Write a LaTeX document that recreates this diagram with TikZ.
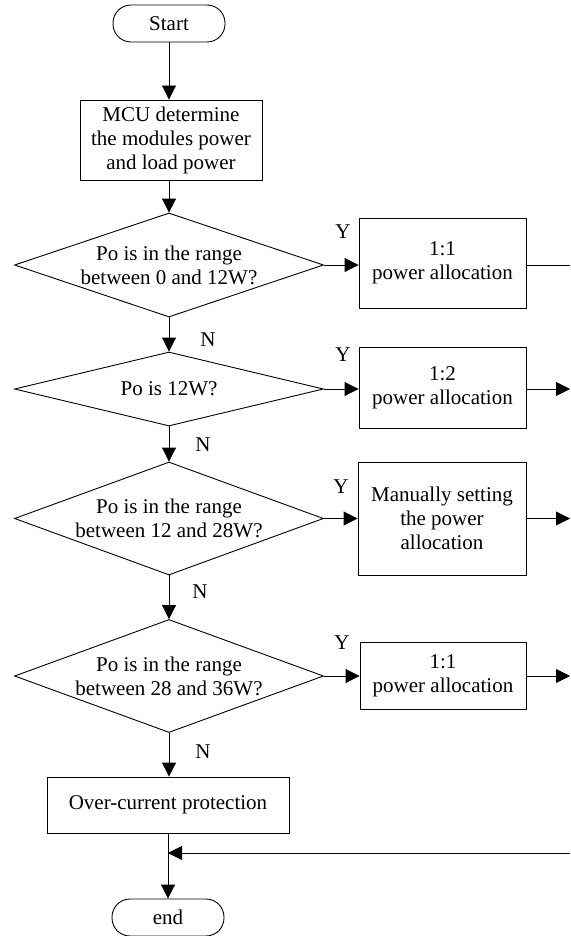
\documentclass[tikz,border=0pt]{standalone}
\usepackage{fontspec}
\setmainfont{Liberation Serif}
\usetikzlibrary{arrows.meta,shapes.geometric}
\begin{document}
\begin{tikzpicture}[x=1pt,y=-1pt,
  every node/.style={font=\fontsize{21}{24}\selectfont},
  line/.style={draw=black,line width=0.9pt},
  arr/.style={line,-{Triangle[length=14pt,width=14pt]}},
  term/.style={draw,line width=0.9pt,rounded corners=18pt,minimum width=112pt,minimum height=37pt,inner sep=0pt},
  proc/.style={draw,line width=0.9pt,inner sep=0pt,align=center},
  dia/.style={draw,line width=0.9pt,diamond,inner sep=0pt,minimum width=309pt},
  txt/.style={inner sep=0pt,align=center},
  lab/.style={inner sep=0pt}
]
\useasboundingbox (0,0) rectangle (570,936);
% terminals
\node[term] (start) at (169,23.5) {Start};
\node[proc,minimum width=182pt,minimum height=80pt] (mcu) at (171,140) {MCU determine\\the modules power\\and load power};
% decisions
\node[dia,minimum height=104pt] (d1) at (169,265) {};
\node[txt] (t1) at (d1) {Po is in the range\\between 0 and 12W?};
\node[dia,minimum height=74pt] (d2) at (169,389) {};
\node[txt] (t2) at (d2) {Po is 12W?};
\node[dia,minimum height=113pt] (d3) at (169,518.5) {};
\node[txt] (t3) at (d3) {Po is in the range\\between 12 and 28W?};
\node[dia,minimum height=113pt] (d4) at (169,676) {};
\node[txt] (t4) at (d4) {Po is in the range\\between 28 and 36W?};
% process boxes on the right
\node[proc,minimum width=167pt,minimum height=90pt] (b1) at (442.5,263) {1:1\\power allocation};
\node[proc,minimum width=167pt,minimum height=81pt] (b2) at (442.5,387.5) {1:2\\power allocation};
\node[proc,minimum width=168pt,minimum height=113pt] (b3) at (442,518.5) {Manually setting\\the power\\allocation};
\node[proc,minimum width=166pt,minimum height=67pt] (b4) at (443,676) {1:1\\power allocation};
\node[proc,minimum width=242pt,minimum height=56pt] (oc) at (168,805) {Over-current protection};
\node[term] (endn) at (168,917.5) {end};
% labels
\node[lab] (y1) at (343,232) {Y};
\node[lab] (y2) at (343,355) {Y};
\node[lab] (y3) at (341,487) {Y};
\node[lab] (y4) at (342,643) {Y};
\node[lab] (n1) at (208,340) {N};
\node[lab] (n2) at (203,445) {N};
\node[lab] (n3) at (200,592) {N};
\node[lab] (n4) at (203,752) {N};
% main flow
\draw[arr] (start.south -| 169,0) -- (mcu.north -| 169,0);
\draw[arr] (mcu.south -| d1.north) -- (d1.north);
\draw[arr] (d1.south) -- (d2.north);
\draw[arr] (d2.south) -- (d3.north);
\draw[arr] (d3.south) -- (d4.north);
\draw[arr] (d4.south) -- (oc.north -| d4.south);
\draw[arr] (oc.south) -- (endn.north);
% yes branches
\draw[arr] (d1.east) -- (b1.west |- d1.east);
\draw[arr] (d2.east) -- (b2.west |- d2.east);
\draw[arr] (d3.east) -- (b3.west |- d3.east);
\draw[arr] (d4.east) -- (b4.west |- d4.east);
% right edge exits
\coordinate (r1) at (570,265);
\coordinate (r2) at (570,389);
\coordinate (r3) at (570,518.5);
\coordinate (r4) at (570,676);
\coordinate (rm) at (570,853);
\draw[line] (b1.east |- r1) -- (r1);
\draw[arr] (b2.east |- r2) -- (r2);
\draw[arr] (b3.east |- r3) -- (r3);
\draw[arr] (b4.east |- r4) -- (r4);
\draw[arr] (rm) -- (rm -| oc.south);
\end{tikzpicture}
\end{document}
